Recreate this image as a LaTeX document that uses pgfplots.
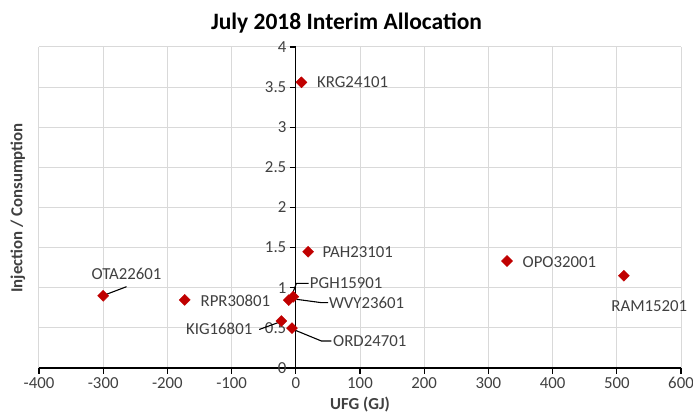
\documentclass[border=0pt]{standalone}
\usepackage{pgfplots}
\pgfplotsset{compat=1.18}
\usepackage{fontspec}
\setmainfont{Carlito}
\definecolor{mkred}{HTML}{C00000}
\definecolor{gridgray}{HTML}{D9D9D9}
\definecolor{txt}{HTML}{404040}
\newcommand{\lbl}{\fontsize{16.8}{20}\selectfont}
\begin{document}
\begin{tikzpicture}[x=1pt,y=1pt]
\begin{axis}[
  at={(0,0)}, anchor=south west,
  scale only axis, width=642pt, height=321pt,
  xmin=-400, xmax=600, ymin=0, ymax=4,
  axis lines=middle,
  axis line style={-, black, line width=1.3pt},
  xtick={-400,-300,...,600},
  ytick={0,0.5,1,1.5,2,2.5,3,3.5,4},
  hide obscured x ticks=false, hide obscured y ticks=false,
  grid=major,
  major grid style={gridgray, line width=1pt},
  tick style={black, line width=1.1pt},
  major tick length=6pt,
  tick align=outside,
  tick label style={font=\lbl, text=txt},
  /pgf/number format/assume math mode=true,
  yticklabel style={/pgf/number format/fixed},
  clip=false,
]
\addplot[only marks, mark=square*, mark size=3.9pt, mark options={rotate=45, fill=mkred, draw=mkred}] table {
x y
8.8 3.56
19.2 1.449
329 1.333
511 1.150
-300 0.900
-173 0.848
-11 0.845
-4 0.888
-22.5 0.585
-6 0.497
};
% leader lines
\draw[black, line width=1.1pt] (axis cs:-263.7,1.013) -- (axis cs:-296,0.915);
\draw[black, line width=1.1pt] (axis cs:-57,0.48) -- (axis cs:-26,0.57);
\draw[black, line width=1.1pt] (axis cs:55.6,0.336) -- (axis cs:40,0.336) -- (axis cs:-2,0.474);
\draw[black, line width=1.1pt] (axis cs:50.3,0.814) -- (axis cs:40,0.814) -- (axis cs:1,0.856);
\draw[black, line width=1.1pt] (axis cs:20,1.055) -- (axis cs:1,1.055) -- (axis cs:-5,0.93);
% labels
\begin{scope}[every node/.style={font=\lbl, text=txt, inner sep=0pt}]
\node[anchor=west] at (axis cs:33,3.56) {KRG24101};
\node[anchor=west] at (axis cs:41.6,1.449) {PAH23101};
\node[anchor=west] at (axis cs:353,1.32) {OPO32001};
\node at (axis cs:550.6,0.77) {RAM15201};
\node at (axis cs:-263.7,1.17) {OTA22601};
\node[anchor=west] at (axis cs:-148.5,0.84) {RPR30801};
\node[anchor=east] at (axis cs:-67.5,0.494) {KIG16801};
\node[anchor=west] at (axis cs:58,0.336) {ORD24701};
\node[anchor=west] at (axis cs:51.4,0.814) {WVY23601};
\node[anchor=west] at (axis cs:21.8,1.055) {PGH15901};
\end{scope}
\end{axis}
\node[font=\fontsize{23.5}{28}\selectfont\bfseries] at (307.5,345) {July 2018 Interim Allocation};
\node[font=\lbl\bfseries, text=txt] at (321,-37) {UFG (GJ)};
\node[font=\lbl\bfseries, text=txt, rotate=90] at (-21,160) {Injection / Consumption};
\pgfresetboundingbox
\useasboundingbox (-39,-49) rectangle (654,368);
\end{tikzpicture}
\end{document}
